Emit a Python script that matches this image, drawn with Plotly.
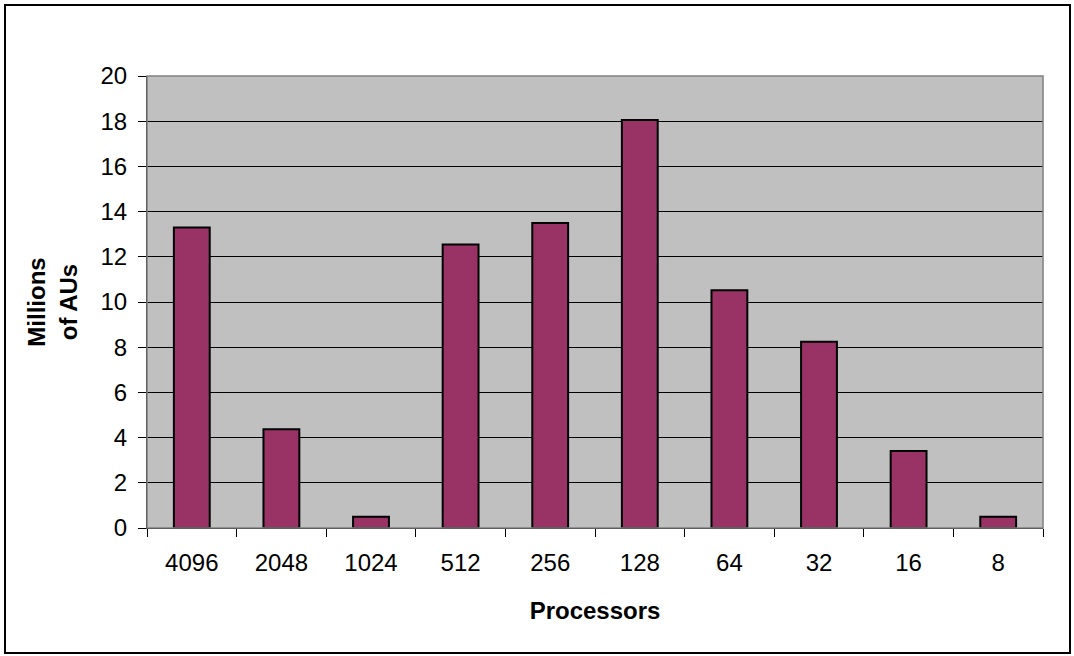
import plotly.graph_objects as go

categories = ["4096", "2048", "1024", "512", "256", "128", "64", "32", "16", "8"]
values = [13.3, 4.37, 0.5, 12.54, 13.5, 18.05, 10.52, 8.24, 3.41, 0.5]
y_ticks = [0, 2, 4, 6, 8, 10, 12, 14, 16, 18, 20]

W, H = 1074, 656
ml, mr, mt, mb = 147, 31, 76, 128
pw, ph = W - ml - mr, H - mt - mb

fig = go.Figure()
fig.add_trace(go.Bar(
    x=categories, y=values,
    marker=dict(color="#993366", line=dict(color="black", width=2)),
    width=0.4,
))

font = "Liberation Sans, Arial, sans-serif"
fig.update_layout(
    width=W, height=H,
    margin=dict(l=ml, r=mr, t=mt, b=mb, pad=0),
    paper_bgcolor="white",
    plot_bgcolor="#C0C0C0",
    showlegend=False,
    font=dict(family=font, size=24, color="black"),
    bargap=0.6,
    xaxis=dict(
        type="category",
        tickson="boundaries",
        ticks="outside", ticklen=8, tickcolor="black", tickwidth=1,
        showgrid=False,
        showline=True, linecolor="black", linewidth=1,
        tickfont=dict(size=24, family=font),
        ticklabelstandoff=13,
        title=dict(text="<b>Processors</b>", font=dict(size=24, family=font), standoff=27),
    ),
    yaxis=dict(
        range=[0, 20],
        tickvals=y_ticks,
        ticks="outside", ticklen=8, tickcolor="black", tickwidth=1,
        showgrid=True, gridcolor="black", gridwidth=1,
        showline=True, linecolor="black", linewidth=1,
        zeroline=False,
        tickfont=dict(size=24, family=font),
        ticklabelstandoff=6,
        title=dict(text="<b>Millions<br>of AUs</b>", font=dict(size=24, family=font), standoff=16),
    ),
    shapes=[
        dict(type="rect", xref="paper", yref="paper",
             x0=0, x1=1, y0=0, y1=1,
             line=dict(color="#808080", width=1.5), fillcolor="rgba(0,0,0,0)", layer="above"),
        dict(type="rect", xref="paper", yref="paper",
             x0=(5 - ml) / pw, x1=(1070 - ml) / pw,
             y0=-(653 - mt - ph) / ph, y1=1 + (mt - 5) / ph,
             line=dict(color="black", width=2), fillcolor="rgba(0,0,0,0)"),
    ],
)

fig.write_html(
    "out.html",
    config={"displayModeBar": False},
    post_script="document.body.style.margin='0';document.body.style.overflow='hidden';",
)
